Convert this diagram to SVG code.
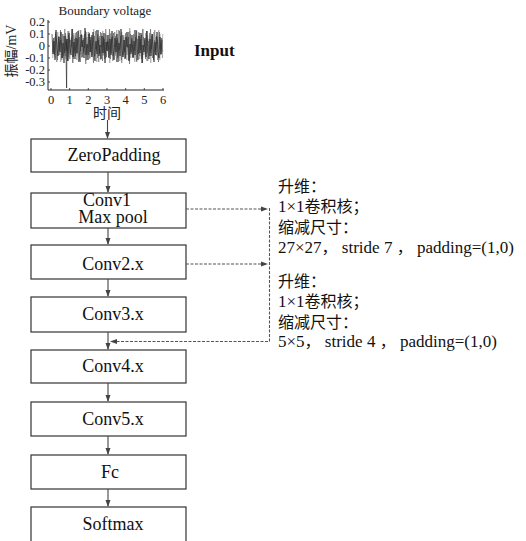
<svg xmlns="http://www.w3.org/2000/svg" width="526" height="541" viewBox="0 0 526 541">
<style>
.box{fill:#fff;stroke:#333;stroke-width:1.2}
.lbl{font-family:"Liberation Serif","Noto Sans CJK SC",serif;font-size:18px;fill:#111;text-anchor:middle}
.flow{stroke:#444;stroke-width:1.1;fill:none}
.dash{stroke:#555;stroke-width:1.1;fill:none;stroke-dasharray:3,1.5}
.note{font-family:"Liberation Serif","Noto Sans CJK SC",serif;font-size:17px;fill:#111}
.tick{font-family:"Liberation Serif",serif;font-size:12.5px;fill:#222}
.cjk{font-family:"Noto Sans CJK SC",sans-serif;font-size:16px}
.sig{fill:none;stroke-width:0.65}
</style>
<defs>
<marker id="ah" markerWidth="7" markerHeight="6" refX="6" refY="3" orient="auto" markerUnits="userSpaceOnUse">
<path d="M0,0.5 L7,3 L0,5.5 Z" fill="#444"/>
</marker>
<polyline id="sigB" points="52.5,52 53.5,38 54.5,55 55.5,34 56.5,41 57.5,60 58.5,37 59.5,50 60.5,30 61.5,44 62.5,58 63.5,36 64.5,53 65.5,33 66.5,42 67.5,61 68.5,35 69.5,54 70.5,40 71.5,47 72.5,29 73.5,59 74.5,39 75.5,56 76.5,32 77.5,43 78.5,62 79.5,37 80.5,51 81.5,34 82.5,57 83.5,38 84.5,48 85.5,31 86.5,60 87.5,45 88.5,55 89.5,33 90.5,52 91.5,35 92.5,42 93.5,63 94.5,36 95.5,49 96.5,30 97.5,58 98.5,40 99.5,54 100.5,32 101.5,44 102.5,61 103.5,37 104.5,53 105.5,34 106.5,57 107.5,41 108.5,50 109.5,29 110.5,59 111.5,39 112.5,56 113.5,33 114.5,47 115.5,36 116.5,62 117.5,38 118.5,51 119.5,31 120.5,43 121.5,60 122.5,35 123.5,55 124.5,40 125.5,58 126.5,32 127.5,48 128.5,37 129.5,64 130.5,34 131.5,52 132.5,45 133.5,57 134.5,30 135.5,42 136.5,61 137.5,39 138.5,54 139.5,33 140.5,50 141.5,35 142.5,63 143.5,37 144.5,44 145.5,59 146.5,31 147.5,53 148.5,41 149.5,56 150.5,29 151.5,49 152.5,34 153.5,60 154.5,40 155.5,55 156.5,36 157.5,43 158.5,62 159.5,32 160.5,51 161.5,38 162.5,58"/>
<polyline id="sigA" points="52,34 53,54 54,41 55,60 56,30 57,49 58,56 59,37 60,52 61,32 62,58 63,43 64,63 65,36 66,51 67,39 68,61 69,33 70,48 71,55 72,29 73,57 74,42 75,59 76,38 77,53 78,31 79,50 80,62 81,35 82,47 83,40 84,58 85,28 86,55 87,44 88,60 89,34 90,52 91,37 92,57 93,32 94,49 95,61 96,41 97,54 98,30 99,56 100,45 101,59 102,36 103,53 104,33 105,63 106,42 107,51 108,35 109,58 110,39 111,55 112,31 113,48 114,60 115,38 116,52 117,34 118,62 119,43 120,56 121,29 122,50 123,57 124,40 125,59 126,37 127,47 128,32 129,61 130,44 131,54 132,35 133,58 134,41 135,55 136,30 137,49 138,60 139,36 140,53 141,33 142,63 143,45 144,52 145,38 146,57 147,31 148,50 149,59 150,39 151,56 152,34 153,48 154,62 155,42 156,55 157,32 158,51 159,58 160,37 161,54 162,40"/>
</defs>
<g id="chart">
<text x="105" y="15" class="tick" style="font-size:13px" text-anchor="middle">Boundary voltage</text>
<use href="#sigB" class="sig" stroke="#999" transform="translate(0.25,92) scale(1,-1)"/>
<use href="#sigA" class="sig" stroke="#777" transform="translate(0.75,92) scale(1,-1)"/>
<use href="#sigB" class="sig" stroke="#666"/>
<use href="#sigA" class="sig" stroke="#1a1a1a"/>
<polyline class="sig" stroke="#222" points="66,51 66.6,88 67,39"/>
<path d="M48,20 V90 H164" fill="none" stroke="#222" stroke-width="1"/>
<path d="M48,22 h2 M48,34 h2 M48,46 h2 M48,58 h2 M48,70 h2 M48,82 h2 M51,90 v-2 M69.7,90 v-2 M88.3,90 v-2 M107,90 v-2 M125.7,90 v-2 M144.3,90 v-2 M163,90 v-2" stroke="#222" stroke-width="0.8"/>
<g class="tick" text-anchor="end">
<text x="45" y="26">0.2</text>
<text x="45" y="38">0.1</text>
<text x="45" y="50">0</text>
<text x="45" y="62">-0.1</text>
<text x="45" y="74">-0.2</text>
<text x="45" y="86">-0.3</text>
</g>
<g class="tick" text-anchor="middle">
<text x="51" y="104">0</text>
<text x="69.7" y="104">1</text>
<text x="88.3" y="104">2</text>
<text x="107" y="104">3</text>
<text x="125.7" y="104">4</text>
<text x="144.3" y="104">5</text>
<text x="163" y="104">6</text>
</g>
<text class="tick" style="font-size:14px" x="107" y="118" text-anchor="middle"><tspan class="cjk" style="font-size:14px">时间</tspan></text>
<text class="tick" style="font-size:14px" transform="translate(16,51) rotate(-90)" text-anchor="middle"><tspan class="cjk" style="font-size:14px">振幅</tspan>/mV</text>
</g>
<g id="input-label"><text x="194" y="56" style="font-family:'Liberation Serif',serif;font-size:17px;font-weight:bold;fill:#111">Input</text></g>
<g id="zeropadding"><rect class="box" x="31" y="139" width="155" height="33"/><text class="lbl" x="114" y="161">ZeroPadding</text></g>
<g id="conv1"><rect class="box" x="31" y="193" width="155" height="35"/><text class="lbl" x="107" y="206">Conv1</text><text class="lbl" x="113" y="223">Max pool</text></g>
<g id="conv2"><rect class="box" x="31" y="245" width="155" height="34"/><text class="lbl" x="113" y="270">Conv2.x</text></g>
<g id="conv3"><rect class="box" x="31" y="297" width="155" height="35"/><text class="lbl" x="113" y="320">Conv3.x</text></g>
<g id="conv4"><rect class="box" x="31" y="350" width="155" height="33"/><text class="lbl" x="113" y="372">Conv4.x</text></g>
<g id="conv5"><rect class="box" x="31" y="402" width="155" height="34"/><text class="lbl" x="113" y="425">Conv5.x</text></g>
<g id="fc"><rect class="box" x="31" y="455" width="155" height="34"/><text class="lbl" x="110" y="478">Fc</text></g>
<g id="softmax"><rect class="box" x="31" y="507" width="155" height="40"/><text class="lbl" x="113" y="530">Softmax</text></g>
<g id="note1" class="note">
<text x="278" y="192"><tspan class="cjk">升维：</tspan></text>
<text x="278" y="212">1×1<tspan class="cjk">卷积核；</tspan></text>
<text x="278" y="233"><tspan class="cjk">缩减尺寸：</tspan></text>
<text x="278" y="253">27×27<tspan class="cjk">，</tspan> stride 7 <tspan class="cjk">，</tspan> padding=(1,0)</text>
</g>
<g id="note2" class="note">
<text x="278" y="287"><tspan class="cjk">升维：</tspan></text>
<text x="278" y="307">1×1<tspan class="cjk">卷积核；</tspan></text>
<text x="278" y="328"><tspan class="cjk">缩减尺寸：</tspan></text>
<text x="278" y="347">5×5<tspan class="cjk">，</tspan> stride 4 <tspan class="cjk">，</tspan> padding=(1,0)</text>
</g>
<g id="connectors">
<path class="flow" d="M107.5,120 V138" marker-end="url(#ah)"/>
<path class="flow" d="M108,172 V192" marker-end="url(#ah)"/>
<path class="flow" d="M108,228 V244" marker-end="url(#ah)"/>
<path class="flow" d="M108,279 V296" marker-end="url(#ah)"/>
<path class="flow" d="M108,332 V349" marker-end="url(#ah)"/>
<path class="flow" d="M108,383 V401" marker-end="url(#ah)"/>
<path class="flow" d="M108,436 V454" marker-end="url(#ah)"/>
<path class="flow" d="M108,489 V506" marker-end="url(#ah)"/>
<path class="dash" d="M186,209 H267" marker-end="url(#ah)"/>
<path class="dash" d="M186,264 H267" marker-end="url(#ah)"/>
<path class="dash" d="M269.5,208 V341.5 H111" marker-end="url(#ah)"/>
</g>
</svg>
